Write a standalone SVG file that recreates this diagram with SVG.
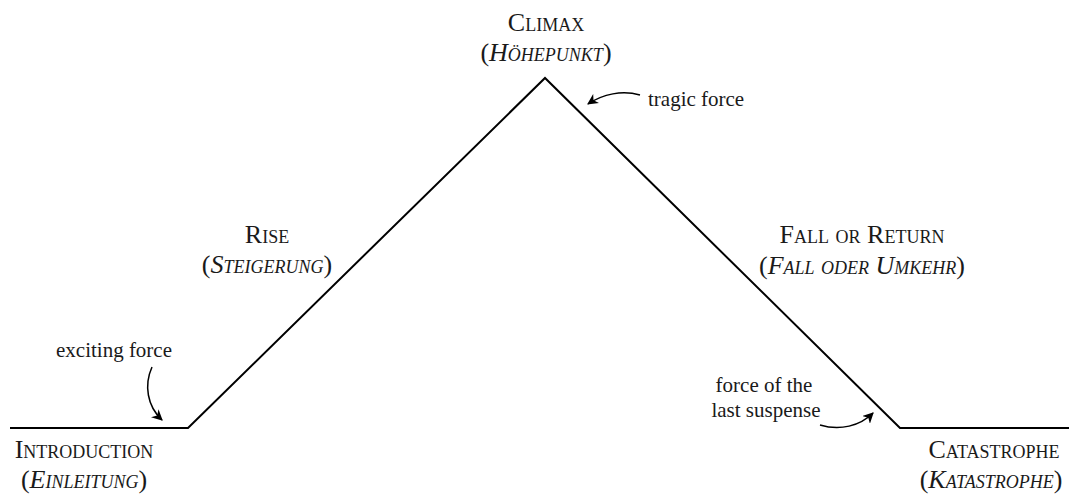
<svg xmlns="http://www.w3.org/2000/svg" width="1069" height="497" viewBox="0 0 1069 497">
<style>
.sc{font-family:"Liberation Serif","DejaVu Serif",serif;font-size:26px;font-variant:small-caps;fill:#1a1a1a;text-anchor:middle}
.it{font-style:italic}
.lbl{font-family:"Liberation Serif","DejaVu Serif",serif;font-size:21px;fill:#1a1a1a}
.curve{fill:none;stroke:#000;stroke-width:2;stroke-linejoin:miter}
.arr{fill:none;stroke:#000;stroke-width:1.5;marker-end:url(#ah)}
</style>
<defs>
<marker id="ah" viewBox="0 0 10 10" refX="9" refY="5" markerWidth="11" markerHeight="11" markerUnits="userSpaceOnUse" orient="auto">
<path d="M0,0 L10,5 L0,10 L3,5 z" fill="#000"/>
</marker>
</defs>
<rect width="1069" height="497" fill="#fff"/>
<g id="connectors">
<path id="pyramid" class="curve" d="M10,428 L188,428 L545,78 L900,428 L1069,428"/>
<path id="arrow-exciting" class="arr" d="M152,367 C144,385 147,406 162,420"/>
<path id="arrow-tragic" class="arr" d="M640,95 C622,90 603,94 588,104"/>
<path id="arrow-suspense" class="arr" d="M820,425 C840,431 860,426 873,413"/>
</g>
<g id="node-introduction">
<text class="sc" x="84" y="458">Introduction</text>
<text class="sc" x="84" y="488">(<tspan class="it">Einleitung</tspan>)</text>
</g>
<g id="node-rise">
<text class="sc" x="267" y="243">Rise</text>
<text class="sc" x="267" y="273">(<tspan class="it">Steigerung</tspan>)</text>
</g>
<g id="node-climax">
<text class="sc" x="546" y="31">Climax</text>
<text class="sc" x="546" y="61">(<tspan class="it">Höhepunkt</tspan>)</text>
</g>
<g id="node-fall">
<text class="sc" x="862" y="243">Fall or Return</text>
<text class="sc" x="862" y="274">(<tspan class="it">Fall oder Umkehr</tspan>)</text>
</g>
<g id="node-catastrophe">
<text class="sc" x="994" y="458">Catastrophe</text>
<text class="sc" x="991" y="488">(<tspan class="it">Katastrophe</tspan>)</text>
</g>
<g id="label-exciting">
<text class="lbl" x="114" y="357" text-anchor="middle">exciting force</text>
</g>
<g id="label-tragic">
<text class="lbl" x="648" y="106">tragic force</text>
</g>
<g id="label-suspense">
<text class="lbl" x="764" y="392" text-anchor="middle">force of the</text>
<text class="lbl" x="766" y="417" text-anchor="middle">last suspense</text>
</g>
</svg>
